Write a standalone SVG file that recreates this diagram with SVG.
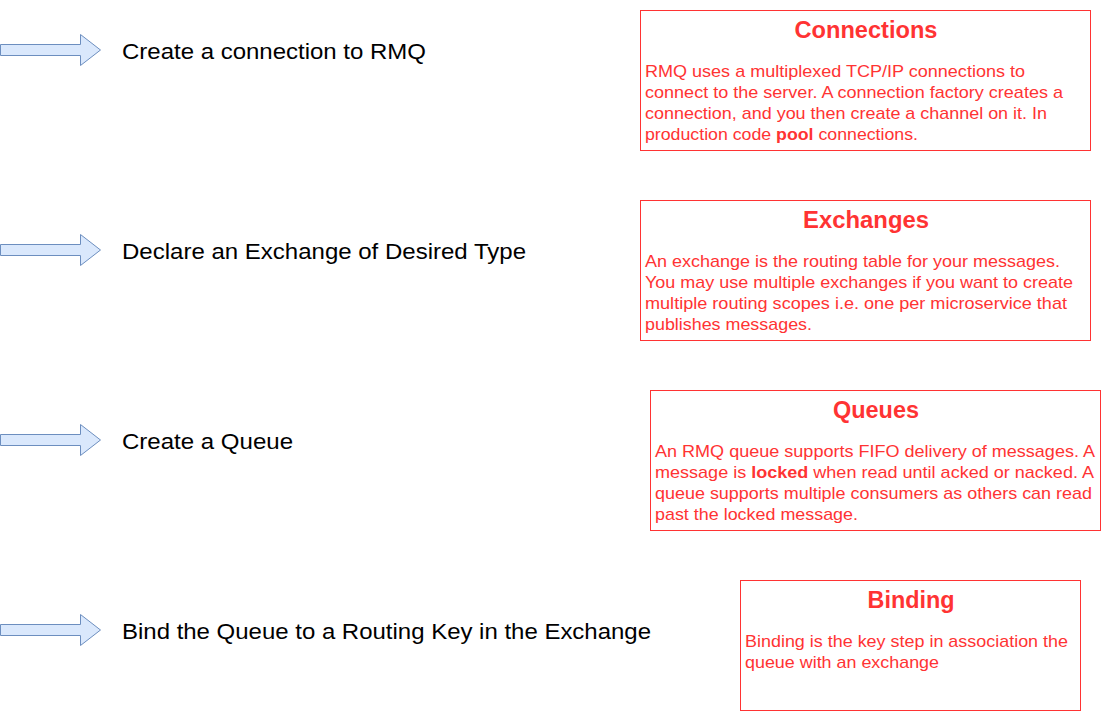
<svg xmlns="http://www.w3.org/2000/svg" width="1101" height="711" viewBox="0 0 1101 711">
<defs>
<style>
.arrow{fill:#dae8fc;stroke:#6c8ebf;stroke-width:1}
.box{fill:#ffffff;stroke:#ff3333;stroke-width:1}
.lbl{font-family:"Liberation Sans",Arial,sans-serif;font-size:22px;fill:#000}
.ttl{font-family:"Liberation Sans",Arial,sans-serif;font-size:23px;font-weight:bold;fill:#ff3333;text-anchor:middle}
.body{font-family:"Liberation Sans",Arial,sans-serif;font-size:17px;fill:#ff3333}
.b{font-weight:bold}
</style>
<path id="arr" d="M0.5,44.5 H80.5 V34.5 L100.5,50 L80.5,65.5 V55.5 H0.5 Z"/>
</defs>
<rect width="1101" height="711" fill="#ffffff"/>
<g id="connectors">
<use href="#arr" class="arrow"/>
<use href="#arr" class="arrow" y="200"/>
<use href="#arr" class="arrow" y="390"/>
<use href="#arr" class="arrow" y="580"/>
</g>
<g id="step1"><text class="lbl" x="122" y="59" textLength="304" lengthAdjust="spacingAndGlyphs">Create a connection to RMQ</text></g>
<g id="step2"><text class="lbl" x="122" y="259" textLength="404" lengthAdjust="spacingAndGlyphs">Declare an Exchange of Desired Type</text></g>
<g id="step3"><text class="lbl" x="122" y="449" textLength="171" lengthAdjust="spacingAndGlyphs">Create a Queue</text></g>
<g id="step4"><text class="lbl" x="122" y="639" textLength="529" lengthAdjust="spacingAndGlyphs">Bind the Queue to a Routing Key in the Exchange</text></g>
<g id="connections">
<rect class="box" x="640.5" y="10.5" width="450" height="140"/>
<text class="ttl" x="866" y="38" textLength="143" lengthAdjust="spacingAndGlyphs">Connections</text>
<text class="body" x="645" y="77" textLength="380" lengthAdjust="spacingAndGlyphs">RMQ uses a multiplexed TCP/IP connections to</text>
<text class="body" x="645" y="98" textLength="418" lengthAdjust="spacingAndGlyphs">connect to the server. A connection factory creates a</text>
<text class="body" x="645" y="119" textLength="402" lengthAdjust="spacingAndGlyphs">connection, and you then create a channel on it. In</text>
<text class="body" x="645" y="140" textLength="273" lengthAdjust="spacingAndGlyphs">production code <tspan class="b">pool</tspan> connections.</text>
</g>
<g id="exchanges">
<rect class="box" x="640.5" y="200.5" width="450" height="140"/>
<text class="ttl" x="866" y="228" textLength="126" lengthAdjust="spacingAndGlyphs">Exchanges</text>
<text class="body" x="645" y="267" textLength="415" lengthAdjust="spacingAndGlyphs">An exchange is the routing table for your messages.</text>
<text class="body" x="645" y="288" textLength="428" lengthAdjust="spacingAndGlyphs">You may use multiple exchanges if you want to create</text>
<text class="body" x="645" y="309" textLength="422" lengthAdjust="spacingAndGlyphs">multiple routing scopes i.e. one per microservice that</text>
<text class="body" x="645" y="330" textLength="167" lengthAdjust="spacingAndGlyphs">publishes messages.</text>
</g>
<g id="queues">
<rect class="box" x="650.5" y="390.5" width="450" height="140"/>
<text class="ttl" x="876" y="418" textLength="86" lengthAdjust="spacingAndGlyphs">Queues</text>
<text class="body" x="655" y="457" textLength="440" lengthAdjust="spacingAndGlyphs">An RMQ queue supports FIFO delivery of messages. A</text>
<text class="body" x="655" y="478" textLength="439" lengthAdjust="spacingAndGlyphs">message is <tspan class="b">locked</tspan> when read until acked or nacked. A</text>
<text class="body" x="655" y="499" textLength="437" lengthAdjust="spacingAndGlyphs">queue supports multiple consumers as others can read</text>
<text class="body" x="655" y="520" textLength="203" lengthAdjust="spacingAndGlyphs">past the locked message.</text>
</g>
<g id="binding">
<rect class="box" x="740.5" y="580.5" width="340" height="130"/>
<text class="ttl" x="911" y="608" textLength="87" lengthAdjust="spacingAndGlyphs">Binding</text>
<text class="body" x="745" y="647" textLength="323" lengthAdjust="spacingAndGlyphs">Binding is the key step in association the</text>
<text class="body" x="745" y="668" textLength="194" lengthAdjust="spacingAndGlyphs">queue with an exchange</text>
</g>
</svg>
